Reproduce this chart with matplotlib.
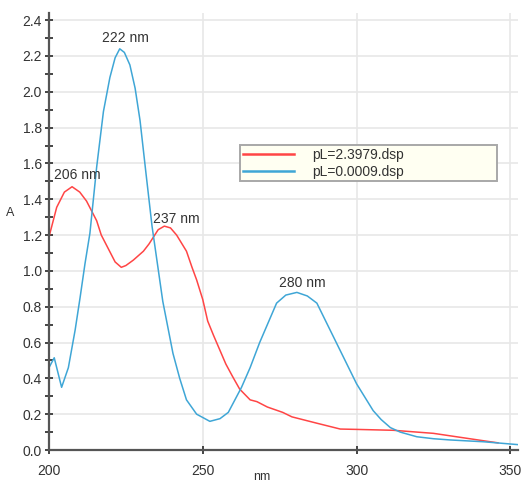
import matplotlib
matplotlib.use("Agg")
import matplotlib.pyplot as plt
from matplotlib.ticker import MultipleLocator

plt.rcParams["font.family"] = ["Liberation Sans", "DejaVu Sans"]

# spectrum pL=2.3979 (red)
red_nm = [200, 202.5, 205, 207.5, 210, 212.2, 214, 215.5, 217, 218.5, 220, 221.5,
          223.5, 225, 227.4, 230.7, 232.5, 234, 235.5, 237.5, 239.5, 241.5, 244.7,
          246.5, 248, 250, 251.6, 253.5, 255.5, 257.5, 259.7, 262, 265.4, 267.6,
          271, 276, 279, 287, 294.7, 300, 312, 325, 336, 343.5, 346]
red_a = [1.19, 1.355, 1.44, 1.47, 1.44, 1.39, 1.33, 1.28, 1.20, 1.15, 1.10, 1.05,
         1.02, 1.03, 1.06, 1.11, 1.15, 1.19, 1.23, 1.25, 1.24, 1.20, 1.11,
         1.02, 0.95, 0.84, 0.72, 0.64, 0.56, 0.48, 0.41, 0.34, 0.28, 0.27,
         0.24, 0.21, 0.185, 0.15, 0.117, 0.115, 0.11, 0.093, 0.065, 0.046, 0.04]

# spectrum pL=0.0009 (blue)
blue_nm = [200, 201.7, 204.1, 206.3, 208.5, 210.1, 211.7, 213.3, 215.5, 217.7,
           219.8, 221.5, 223, 224.5, 226.3, 228, 229.6, 231.5, 233.5, 237, 240.3,
           242.5, 244.7, 248, 252.3, 255.6, 258.3, 262.6, 265.4, 268.5, 271.5,
           274, 277, 280.6, 284, 287.1, 291.4, 295.7, 300, 305.4, 308, 311,
           314.2, 319.6, 325, 330.5, 341.3, 352.5]
blue_a = [0.46, 0.515, 0.35, 0.46, 0.67, 0.85, 1.04, 1.21, 1.58, 1.89,
          2.08, 2.19, 2.24, 2.22, 2.15, 2.02, 1.84, 1.55, 1.25, 0.83, 0.54,
          0.40, 0.28, 0.20, 0.16, 0.175, 0.21, 0.35, 0.46, 0.60, 0.72,
          0.82, 0.865, 0.88, 0.86, 0.82, 0.67, 0.52, 0.37, 0.22, 0.17, 0.125,
          0.10, 0.074, 0.063, 0.056, 0.046, 0.03]

peak_labels = ["206 nm", "222 nm", "237 nm", "280 nm"]
peak_pos = [(209.3, 1.537), (224.9, 2.30), (241.4, 1.29), (282.4, 0.93)]

legend_labels = ["pL=2.3979.dsp", "pL=0.0009.dsp"]

W, H = 523, 482
fig = plt.figure(figsize=(W / 100, H / 100), dpi=100)
ax = fig.add_axes([49 / W, 1 - 450 / H, (518 - 49) / W, (450 - 13) / H])

ax.plot(red_nm, red_a, color="#ff4545", lw=1.1, label=legend_labels[0])
ax.plot(blue_nm, blue_a, color="#3fa6d6", lw=1.1, label=legend_labels[1])

for txt, (xp, yp) in zip(peak_labels, peak_pos):
    ax.text(xp, yp, txt, ha="center", va="center", fontsize=10, color="#333333")

ax.set_xlim(200, 352.5)
ax.set_ylim(0, 2.44)
ax.xaxis.set_major_locator(MultipleLocator(50))
ax.yaxis.set_major_locator(MultipleLocator(0.2))
ax.yaxis.set_minor_locator(MultipleLocator(0.1))
ax.yaxis.set_major_formatter(plt.FuncFormatter(lambda v, p: f"{v:.1f}"))

ax.grid(True, which="major", color="#e8e8e8", lw=1.2)
ax.set_axisbelow(True)
for s in ["top", "right"]:
    ax.spines[s].set_visible(False)
for s in ["left", "bottom"]:
    ax.spines[s].set_color("#555555")
    ax.spines[s].set_linewidth(1.6)

ax.tick_params(axis="y", which="major", direction="inout", length=6, width=1.4,
               color="#444444", labelsize=10, labelcolor="#333333", pad=2)
ax.tick_params(axis="y", which="minor", direction="inout", length=6, width=1.4,
               color="#444444")
ax.tick_params(axis="x", which="major", direction="inout", length=6, width=1.4,
               color="#444444", labelsize=10, labelcolor="#333333", pad=7)

fig.text(10 / W, 1 - 213 / H, "A", ha="center", va="center", fontsize=9, color="#333333")
fig.text(262 / W, 1 - 477 / H, "nm", ha="center", va="center", fontsize=9, color="#333333")

leg = ax.legend(loc="upper left", bbox_to_anchor=(240 / W, 1 - 182 / H, (497 - 240) / W, 37 / H),
                bbox_transform=fig.transFigure, mode="expand", borderaxespad=0,
                fontsize=10, fancybox=False, framealpha=1, handlelength=3.7,
                handletextpad=1.3, borderpad=0.2, labelspacing=0.2)
leg.get_frame().set_facecolor("#fffff2")
leg.get_frame().set_edgecolor("#a8a8a8")
leg.get_frame().set_linewidth(1.4)
for t in leg.get_texts():
    t.set_color("#333333")
for l in leg.get_lines():
    l.set_linewidth(1.8)

fig.savefig("out.png", dpi=100)
